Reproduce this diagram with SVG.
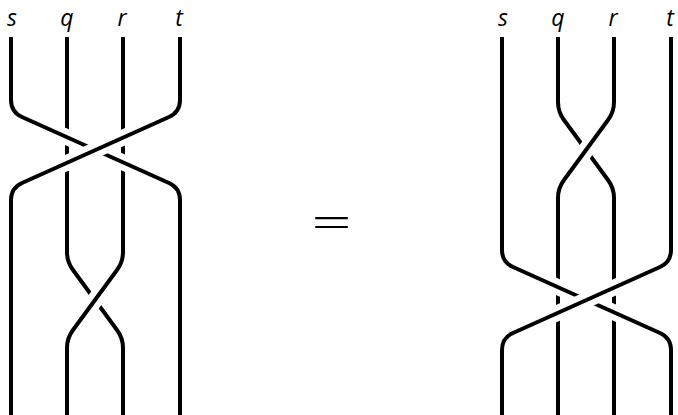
<svg xmlns="http://www.w3.org/2000/svg" width="678" height="415" viewBox="0 0 678 415">
  <style>
    .s { fill: none; stroke: #000; stroke-width: 4; stroke-linecap: butt; stroke-linejoin: round; }
    .h { fill: none; stroke: #fff; stroke-width: 16; stroke-linecap: butt; }
    .lbl { font-family: "Open Sans", "DejaVu Sans", sans-serif; font-style: italic; font-size: 23px; fill: #000; text-anchor: middle; }
    .eq { font-family: "Liberation Serif", serif; font-size: 50px; fill: #000; text-anchor: middle; }
  </style>
  <rect width="678" height="415" fill="#fff"/>
  <g id="left">
    <g id="labels-left">
      <text class="lbl" x="12" y="26">s</text>
      <text class="lbl" x="67" y="26">q</text>
      <text class="lbl" x="122" y="26">r</text>
      <text class="lbl" x="179" y="26">t</text>
    </g>
    <g id="strands-left">
      <path id="L-q" class="s" d="M 67 37 V 252 Q 67 262 73 270 L 117 330 Q 123 338 123 348 V 415"/>
      <path class="h" d="M 106 285 L 84 315"/>
      <path id="L-r" class="s" d="M 123 37 V 252 Q 123 262 117 270 L 73 330 Q 67 338 67 348 V 415"/>
      <path class="h" d="M 11 37 V 100 Q 11 112 22 117 L 169 183 Q 180 188 180 200 V 415"/>
      <path id="L-s" class="s" d="M 11 37 V 100 Q 11 112 22 117 L 169 183 Q 180 188 180 200 V 415"/>
      <path class="h" d="M 180 37 V 100 Q 180 112 169 117 L 22 183 Q 11 188 11 200 V 415"/>
      <path id="L-t" class="s" d="M 180 37 V 100 Q 180 112 169 117 L 22 183 Q 11 188 11 200 V 415"/>
    </g>
  </g>
  <g id="equals">
    <text class="eq" transform="translate(331.5,236) scale(1.4,0.85)" x="0" y="0">=</text>
  </g>
  <g id="right">
    <g id="labels-right">
      <text class="lbl" x="503" y="26">s</text>
      <text class="lbl" x="558" y="26">q</text>
      <text class="lbl" x="613" y="26">r</text>
      <text class="lbl" x="670" y="26">t</text>
    </g>
    <g id="strands-right">
      <path id="R-q" class="s" d="M 558 37 V 102 Q 558 112 564 120 L 608 180 Q 614 188 614 198 V 415"/>
      <path class="h" d="M 597 135 L 575 165"/>
      <path id="R-r" class="s" d="M 614 37 V 102 Q 614 112 608 120 L 564 180 Q 558 188 558 198 V 415"/>
      <path class="h" d="M 502 37 V 250 Q 502 262 513 267 L 660 333 Q 671 338 671 350 V 415"/>
      <path id="R-s" class="s" d="M 502 37 V 250 Q 502 262 513 267 L 660 333 Q 671 338 671 350 V 415"/>
      <path class="h" d="M 671 37 V 250 Q 671 262 660 267 L 513 333 Q 502 338 502 350 V 415"/>
      <path id="R-t" class="s" d="M 671 37 V 250 Q 671 262 660 267 L 513 333 Q 502 338 502 350 V 415"/>
    </g>
  </g>
</svg>
